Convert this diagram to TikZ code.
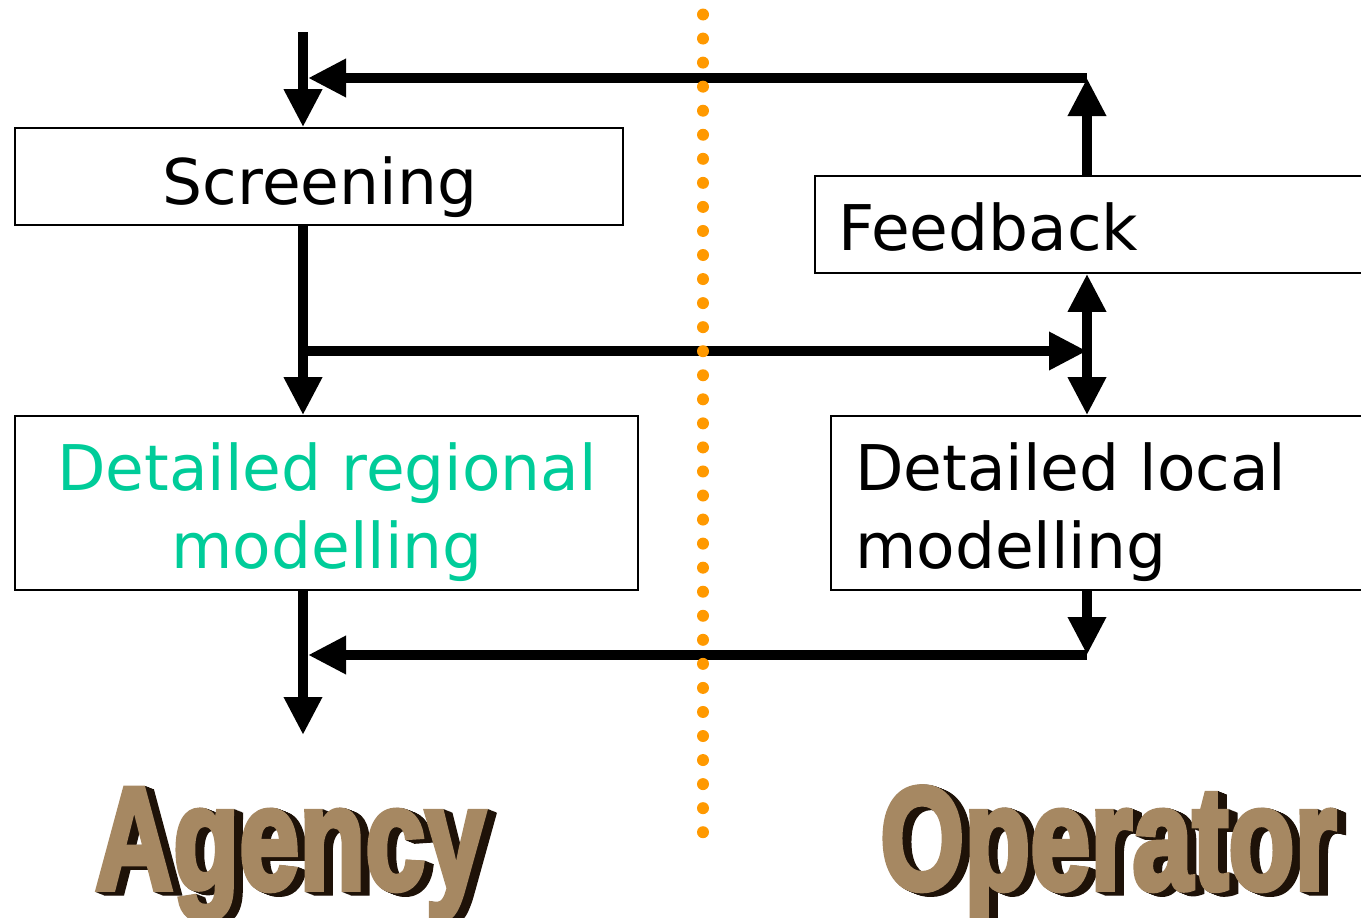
\documentclass[tikz,border=0pt]{standalone}
\usepackage{fontspec}
\setmainfont{DejaVu Sans}
\newfontfamily\wordart{Liberation Sans Bold}[FakeBold=4]
\usetikzlibrary{arrows.meta}
\definecolor{regiongreen}{RGB}{0,204,153}
\definecolor{dotorange}{RGB}{255,153,0}
\definecolor{stone}{RGB}{166,136,98}
\definecolor{stoneshade}{RGB}{30,18,8}
\newcommand\wordartsqueeze[1]{\scalebox{0.74}[1]{#1}}

\begin{document}
\begin{tikzpicture}[x=1pt,y=-1pt,
  box/.style={draw, line width=1.6pt, rectangle, inner sep=0pt},
  flow/.style={line width=10pt, -{Triangle[width=36pt,length=38pt]}},
  lbl/.style={font=\fontsize{63}{78}\selectfont, inner sep=0pt},
  wa/.style={font=\wordart\fontsize{146}{146}\selectfont, inner sep=0pt, anchor=base west},
]
\useasboundingbox (0,0) rectangle (1361,918);

% process boxes
\node[box, minimum width=608pt, minimum height=97pt]  (scr) at (319,176.5)  {};
\node[box, minimum width=585pt, minimum height=97pt]  (fb)  at (1107.5,224.5) {};
\node[box, minimum width=623pt, minimum height=174pt] (reg) at (326.5,503) {};
\node[box, minimum width=569pt, minimum height=174pt] (loc) at (1115.5,503) {};

% box texts
\node[lbl, anchor=base] (scrt) at (320,204) {Screening};
\node[lbl, anchor=base west] (fbt) at (838,250) {Feedback};
\node[lbl, anchor=base, text=regiongreen] (regt1) at (327,490) {Detailed regional};
\node[lbl, anchor=base, text=regiongreen] (regt2) at (327,568) {modelling};
\node[lbl, anchor=base west] (loct1) at (855,490) {Detailed local};
\node[lbl, anchor=base west] (loct2) at (855,568) {modelling};

% flow connectors
\coordinate (in) at (303,32);
\coordinate (fbturn) at (1087,78);
\coordinate (split) at (1087,351);
\coordinate (merge) at (1087,655);
\coordinate (out) at (303,735);

\draw[flow] (in) -- (in |- scr.north);
\draw[flow] (fbturn |- fb.north) -- (fbturn);
\draw[flow] (fbturn) -- ([xshift=5pt]fbturn -| in);
\draw[flow] (in |- scr.south) -- (in |- reg.north);
\draw[flow] ([xshift=-5pt]in |- split) -- (split);
\draw[flow] (split) -- (split |- fb.south);
\draw[flow] (split) -- (split |- loc.north);
\draw[flow] (merge |- loc.south) -- (merge);
\draw[flow] (merge) -- ([xshift=5pt]merge -| in);
\draw[flow] (in |- reg.south) -- (out);

% dividing line between the two parties, on top of the connectors
\coordinate (divtop) at (703,14.5);
\coordinate (divbot) at (703,834);
\draw[dotorange, line width=12pt, line cap=round, dash pattern=on 0pt off 24.05pt] (divtop) -- (divbot);

% party names, extruded lettering
\foreach \d in {9,8,...,1}{
  \node[wa, text=stoneshade] (agsh\d) at (95+\d,889+0.4*\d) {\wordartsqueeze{Agency}};
  \node[wa, text=stoneshade] (opsh\d) at (880+\d,889+0.4*\d) {\wordartsqueeze{Operator}};
}
\node[wa, text=stone] (agency) at (95,889) {\wordartsqueeze{Agency}};
\node[wa, text=stone] (operator) at (880,889) {\wordartsqueeze{Operator}};
\end{tikzpicture}
\end{document}
